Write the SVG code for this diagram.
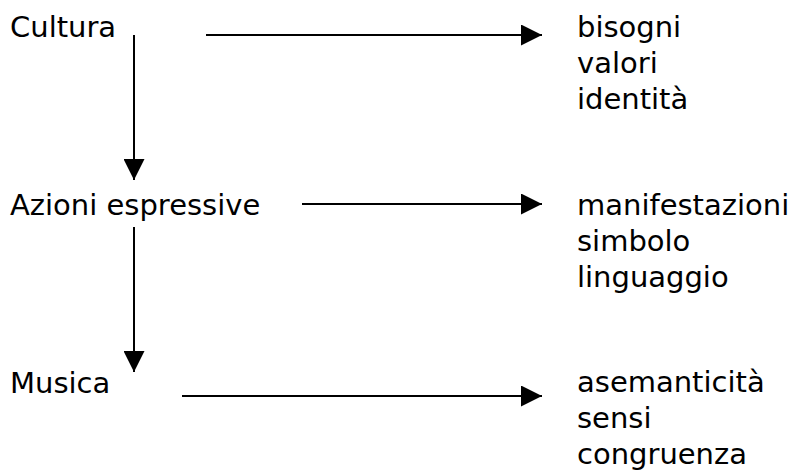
<svg xmlns="http://www.w3.org/2000/svg" width="791" height="470" viewBox="0 0 791 470">
<style>
text{font-family:"DejaVu Sans",Verdana,sans-serif;font-size:29px;fill:#000}
.c line{stroke:#000;stroke-width:2}
</style>
<defs>
<marker id="ah" viewBox="0 0 21 21" refX="21" refY="10.5" markerWidth="21" markerHeight="21" markerUnits="userSpaceOnUse" orient="auto">
<path d="M0,0 L21,10.5 L0,21 Z" fill="#000"/>
</marker>
</defs>
<rect width="791" height="470" fill="#fff"/>
<g id="cultura"><text x="10" y="37">Cultura</text></g>
<g id="azioni"><text x="10" y="215">Azioni espressive</text></g>
<g id="musica"><text x="10" y="393">Musica</text></g>
<g id="out1"><text x="577" y="37">bisogni</text><text x="577" y="73">valori</text><text x="577" y="109">identità</text></g>
<g id="out2"><text x="577" y="215">manifestazioni</text><text x="577" y="251">simbolo</text><text x="577" y="287">linguaggio</text></g>
<g id="out3"><text x="577" y="392">asemanticità</text><text x="577" y="428">sensi</text><text x="577" y="464">congruenza</text></g>
<g id="connectors" class="c">
<line x1="134" y1="35" x2="134" y2="180" marker-end="url(#ah)"/>
<line x1="134" y1="227" x2="134" y2="372" marker-end="url(#ah)"/>
<line x1="206" y1="35" x2="542" y2="35" marker-end="url(#ah)"/>
<line x1="302" y1="204" x2="542" y2="204" marker-end="url(#ah)"/>
<line x1="182" y1="396" x2="542" y2="396" marker-end="url(#ah)"/>
</g>
</svg>
